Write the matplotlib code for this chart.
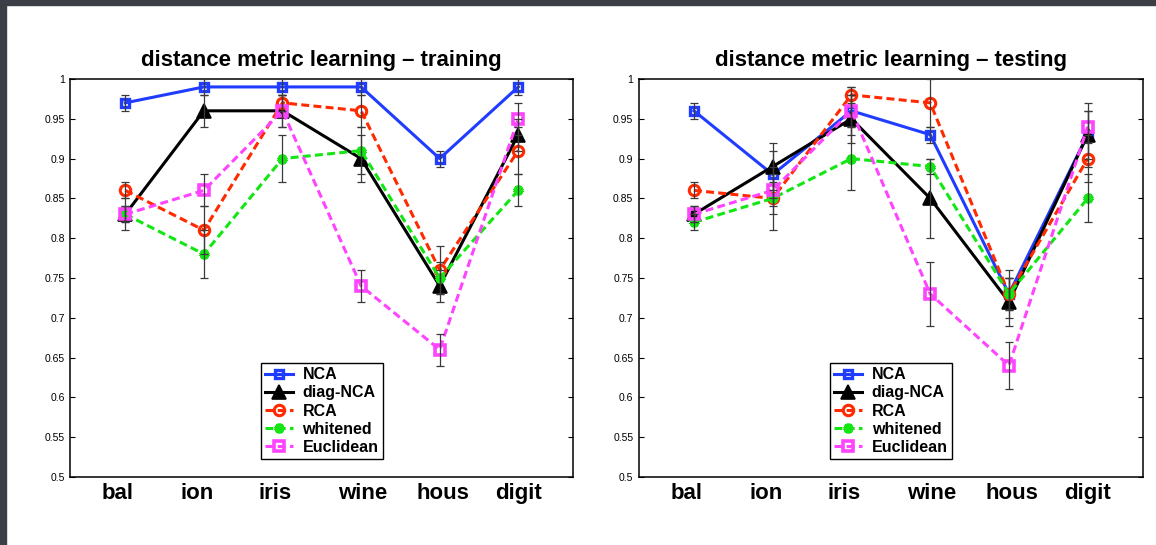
import matplotlib
matplotlib.use("Agg")
import matplotlib.pyplot as plt
from matplotlib.patches import Rectangle
from matplotlib.ticker import FuncFormatter
from matplotlib.transforms import ScaledTranslation

plt.rcParams['font.family'] = ['Liberation Sans', 'DejaVu Sans']

# ---- data -----------------------------------------------------------------
datasets = ["bal", "ion", "iris", "wine", "hous", "digit"]
methods = ["NCA", "diag-NCA", "RCA", "whitened", "Euclidean"]
panel_titles = ["distance metric learning \u2013 training",
                "distance metric learning \u2013 testing"]

# training accuracy (mean, spread)
train_nca = [0.97, 0.99, 0.99, 0.99, 0.90, 0.99]
train_nca_err = [0.01, 0.01, 0.01, 0.01, 0.01, 0.01]
train_diag = [0.83, 0.96, 0.96, 0.90, 0.74, 0.93]
train_diag_err = [0.01, 0.02, 0.02, 0.03, 0.02, 0.02]
train_rca = [0.86, 0.81, 0.97, 0.96, 0.76, 0.91]
train_rca_err = [0.01, 0.03, 0.01, 0.02, 0.03, 0.03]
train_white = [0.83, 0.78, 0.90, 0.91, 0.75, 0.86]
train_white_err = [0.02, 0.03, 0.03, 0.03, 0.02, 0.02]
train_eucl = [0.83, 0.86, 0.96, 0.74, 0.66, 0.95]
train_eucl_err = [0.01, 0.02, 0.02, 0.02, 0.02, 0.02]

# testing accuracy (mean, spread)
test_nca = [0.96, 0.88, 0.96, 0.93, 0.73, 0.93]
test_nca_err = [0.01, 0.03, 0.02, 0.01, 0.03, 0.03]
test_diag = [0.83, 0.89, 0.95, 0.85, 0.72, 0.93]
test_diag_err = [0.01, 0.03, 0.03, 0.05, 0.03, 0.04]
test_rca = [0.86, 0.85, 0.98, 0.97, 0.73, 0.90]
test_rca_err = [0.01, 0.04, 0.01, 0.03, 0.02, 0.03]
test_white = [0.82, 0.85, 0.90, 0.89, 0.73, 0.85]
test_white_err = [0.01, 0.02, 0.04, 0.01, 0.02, 0.03]
test_eucl = [0.83, 0.86, 0.96, 0.73, 0.64, 0.94]
test_eucl_err = [0.01, 0.02, 0.03, 0.04, 0.03, 0.02]

yticks = [0.5, 0.55, 0.6, 0.65, 0.7, 0.75, 0.8, 0.85, 0.9, 0.95, 1.0]

# ---- styles ---------------------------------------------------------------
dash = (2.6, 1.4)
styles = {
    "NCA": dict(color="#1f3cff", marker="s", ms=6, mew=2.4, mfc="none",
                ls="-"),
    "diag-NCA": dict(color="black", marker="^", ms=10, mew=1.2, mfc="black",
                     ls="-"),
    "RCA": dict(color="#ff2a00", marker="o", ms=7.5, mew=2.2, mfc="none",
                ls="--", dashes=dash),
    "whitened": dict(color="#14e614", marker=(6, 2, 0), ms=7, mew=3.0,
                     ls="--", dashes=dash),
    "Euclidean": dict(color="#ff44ff", marker="s", ms=6.5, mew=2.6,
                      mfc="none", ls="--", dashes=dash),
}

panels = [
    [(train_nca, train_nca_err), (train_diag, train_diag_err),
     (train_rca, train_rca_err), (train_white, train_white_err),
     (train_eucl, train_eucl_err)],
    [(test_nca, test_nca_err), (test_diag, test_diag_err),
     (test_rca, test_rca_err), (test_white, test_white_err),
     (test_eucl, test_eucl_err)],
]

fig = plt.figure(figsize=(11.56, 5.45), dpi=100, facecolor="white")
axes_rects = [[0.0608, 0.1248, 0.4351, 0.7303],
              [0.5526, 0.1248, 0.4360, 0.7303]]

x = list(range(1, len(datasets) + 1))

for rect, title, series in zip(axes_rects, panel_titles, panels):
    ax = fig.add_axes(rect)
    for name, (vals, errs) in zip(methods, series):
        st = dict(styles[name])
        ax.plot(x, vals, lw=2.2, label=name, zorder=2, **st)
        ax.errorbar(x, vals, yerr=errs, fmt="none", ecolor="#3a3a3a",
                    elinewidth=0.9, capsize=3, capthick=0.9, zorder=3)

    ax.set_xlim(0.3, 6.7)
    ax.set_ylim(0.5, 1.0)
    ax.set_yticks(yticks)
    ax.yaxis.set_major_formatter(FuncFormatter(lambda v, p: "%g" % v))
    ax.tick_params(axis="y", which="both", direction="in", length=3.5,
                   width=0.8, labelsize=7.5, pad=4, right=True)
    ax.set_xticks(x)
    ax.set_xticklabels(datasets, fontsize=16, fontweight="bold")
    ax.tick_params(axis="x", length=0, pad=4)
    shift = ScaledTranslation(-23.5 / 100.0, 0, fig.dpi_scale_trans)
    for lab in ax.get_xticklabels():
        lab.set_horizontalalignment("left")
        lab.set_transform(lab.get_transform() + shift)
    for sp in ax.spines.values():
        sp.set_linewidth(1.1)
        sp.set_color("black")
    ax.set_title(title, fontsize=16, fontweight="bold", pad=9)

    leg = ax.legend(loc="lower center", bbox_to_anchor=(0.5, 0.045),
                    prop={"weight": "bold", "size": 11.5}, fancybox=False,
                    framealpha=1, edgecolor="black", borderpad=0.28,
                    labelspacing=0.19, handlelength=1.75, handletextpad=0.6,
                    borderaxespad=0)
    leg.get_frame().set_linewidth(1.0)

# dark presentation border along the top and left edges
fig.add_artist(Rectangle((0, 1 - 5 / 545), 1, 5 / 545,
                         transform=fig.transFigure, color="#3c3f46",
                         zorder=10))
fig.add_artist(Rectangle((0, 0), 6 / 1156, 1, transform=fig.transFigure,
                         color="#3c3f46", zorder=10))

fig.savefig("out.png", dpi=100, facecolor="white")
